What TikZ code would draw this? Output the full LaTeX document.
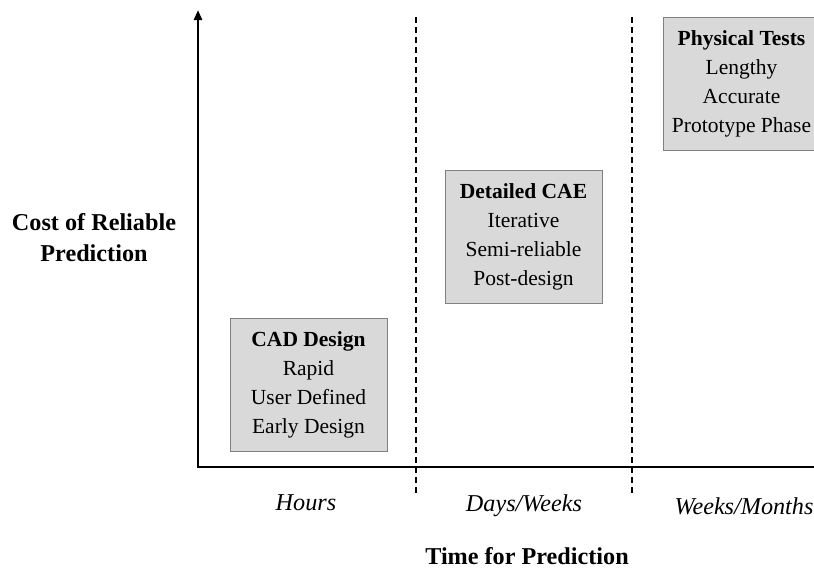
\documentclass[tikz,border=0pt]{standalone}
\usepackage{fontspec}
\setmainfont{Liberation Serif}
\usetikzlibrary{arrows.meta}
\begin{document}
\begin{tikzpicture}[x=1pt,y=-1pt,
  phasebox/.style={draw=black!50, line width=1pt, fill=black!15, minimum width=157pt, minimum height=133pt, inner sep=0pt, align=center, font=\fontsize{21.5}{29}\selectfont},
  axislabel/.style={font=\fontsize{24.2}{31}\selectfont\bfseries, align=center},
  timelabel/.style={font=\fontsize{24.2}{31}\selectfont\itshape},
  axisline/.style={line width=2.8pt},
  divider/.style={line width=1.6pt, dash pattern=on 5.5pt off 4.5pt}]
\useasboundingbox (0,0) rectangle (814,570);
\coordinate (origin) at (198,467);
\coordinate (ytop) at (198,10);
\coordinate (xend) at (816,467);
\coordinate (d1top) at (416,17);
\coordinate (d1bot) at (416,495);
\coordinate (d2top) at (632,17);
\coordinate (d2bot) at (632,495);
\draw[divider] (d1top) -- (d1bot);
\draw[divider] (d2top) -- (d2bot);
\draw[axisline, -{Triangle[width=8pt,length=10pt]}] (origin) -- (ytop);
\draw[axisline] ([xshift=-1.4pt]origin) -- (xend);
\node[phasebox] (cad) at (308.5,384.5) {\textbf{CAD Design}\\Rapid\\User Defined\\Early Design};
\node[phasebox] (cae) at (523.5,237) {\textbf{Detailed CAE}\\Iterative\\Semi-reliable\\Post-design};
\node[phasebox] (phys) at (741.5,84) {\textbf{Physical Tests}\\Lengthy\\Accurate\\Prototype Phase};
\node[axislabel] (ylab) at (94,238) {Cost of Reliable\\Prediction};
\node[timelabel] (hours) at (306,503) {Hours};
\node[timelabel] (days) at (524,506) {Days/Weeks};
\node[timelabel] (weeks) at (744,506) {Weeks/Months};
\node[axislabel] (xlab) at (527,556) {Time for Prediction};
\end{tikzpicture}
\end{document}
